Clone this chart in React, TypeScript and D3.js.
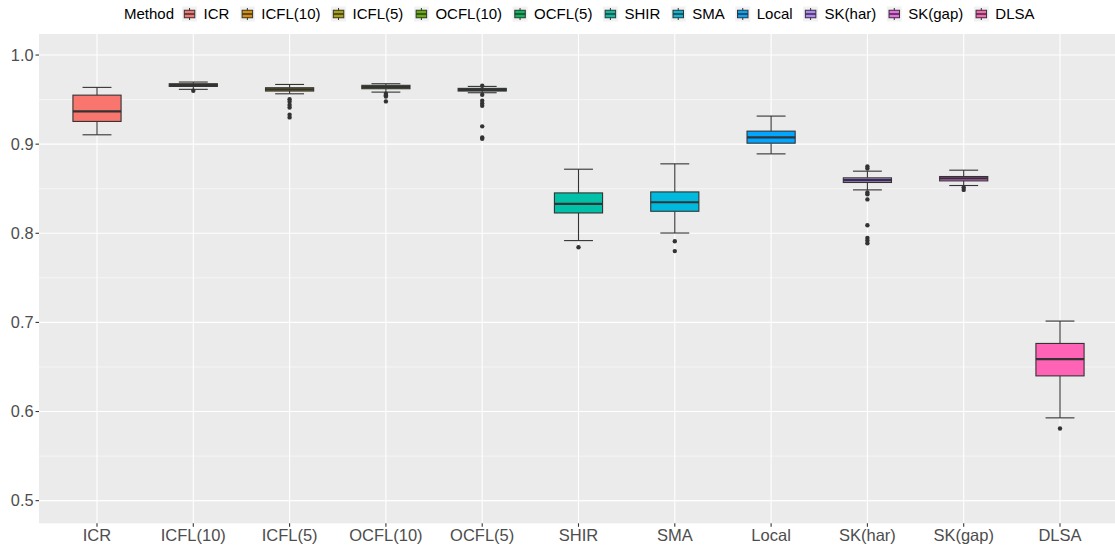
import React from "react";
import * as d3 from "d3";

const categories = ["ICR", "ICFL(10)", "ICFL(5)", "OCFL(10)", "OCFL(5)", "SHIR", "SMA", "Local", "SK(har)", "SK(gap)", "DLSA"];
const colors = ["#F8766D", "#DB8E00", "#AEA200", "#64B200", "#00BD5C", "#00C1A7", "#00BADE", "#00A6FF", "#B385FF", "#EF67EB", "#FF63B6"];
const whiskerLow = [0.9105, 0.9615, 0.9565, 0.9584, 0.9577, 0.7918, 0.8003, 0.8891, 0.8487, 0.8536, 0.5929];
const q1 = [0.9255, 0.9648, 0.9596, 0.9622, 0.9596, 0.8228, 0.8247, 0.9011, 0.857, 0.8588, 0.640];
const median = [0.9367, 0.9663, 0.9615, 0.964, 0.961, 0.8329, 0.8348, 0.9075, 0.8596, 0.8615, 0.6588];
const q3 = [0.955, 0.9678, 0.9633, 0.966, 0.9626, 0.8453, 0.8464, 0.9146, 0.8622, 0.8637, 0.6764];
const whiskerHigh = [0.9637, 0.9697, 0.967, 0.9678, 0.9648, 0.8719, 0.8779, 0.9315, 0.8697, 0.8708, 0.7015];
const outliers: number[][] = [
  [],
  [0.96],
  [0.9505, 0.9475, 0.944, 0.941, 0.933, 0.93],
  [0.9565, 0.955, 0.9535, 0.948],
  [0.9655, 0.9554, 0.9487, 0.9457, 0.943, 0.92, 0.9075, 0.906],
  [0.7843],
  [0.791, 0.78],
  [],
  [0.8749, 0.8727, 0.8457, 0.8438, 0.838, 0.809, 0.7947, 0.792, 0.7888],
  [0.8513, 0.8487],
  [0.581],
];
const yTicks = [0.5, 0.6, 0.7, 0.8, 0.9, 1.0];
const yMinor = [0.55, 0.65, 0.75, 0.85, 0.95];
const legendTitle = "Method";

const W = 1115, H = 550;
const panel = { left: 39, right: 1115, top: 34, bottom: 523.3 };
const FONT = "'Liberation Sans', Arial, Helvetica, sans-serif";

function measure(text: string, size: number) {
  if (typeof document === "undefined") return text.length * size * 0.55;
  const c = document.createElement("canvas").getContext("2d");
  if (!c) return text.length * size * 0.55;
  c.font = `${size}px ${FONT}`;
  return c.measureText(text).width;
}

export default function App() {
  const y = d3.scaleLinear().domain([0.4746, 1.0236]).range([panel.bottom, panel.top]);
  const x = d3.scalePoint<string>().domain(categories).range([97, 1060]);
  const step = x.step();
  const boxW = step * 0.5;
  const capW = step * 0.3;
  const stroke = "#333333";

  // legend layout
  const legSize = 15;
  let lx = 124;
  const titleW = measure(legendTitle, legSize);
  const titleX = lx;
  lx += titleW + 8;
  const items = categories.map((c, i) => {
    const keyX = lx;
    const labX = lx + 21.5;
    lx = labX + measure(c, legSize) + 10.5;
    return { c, i, keyX, labX };
  });
  const legY = 14;
  const k = 15;

  return (
    <svg width={W} height={H} style={{ position: "absolute", left: 0, top: 0, background: "#fff" }} fontFamily={FONT}>
      <rect x={panel.left} y={panel.top} width={panel.right - panel.left} height={panel.bottom - panel.top} fill="#EBEBEB" />
      {yMinor.map((v) => (
        <line key={"mn" + v} x1={panel.left} x2={panel.right} y1={y(v)} y2={y(v)} stroke="#fff" strokeWidth={0.55} />
      ))}
      {yTicks.map((v) => (
        <line key={"mj" + v} x1={panel.left} x2={panel.right} y1={y(v)} y2={y(v)} stroke="#fff" strokeWidth={1.1} />
      ))}
      {categories.map((c) => (
        <line key={"vx" + c} x1={x(c)} x2={x(c)} y1={panel.top} y2={panel.bottom} stroke="#fff" strokeWidth={1.1} />
      ))}
      {categories.map((c, i) => {
        const cx = x(c) as number;
        return (
          <g key={"b" + c}>
            <line x1={cx} x2={cx} y1={y(whiskerHigh[i])} y2={y(q3[i])} stroke={stroke} strokeWidth={1.1} />
            <line x1={cx} x2={cx} y1={y(q1[i])} y2={y(whiskerLow[i])} stroke={stroke} strokeWidth={1.1} />
            <line x1={cx - capW / 2} x2={cx + capW / 2} y1={y(whiskerHigh[i])} y2={y(whiskerHigh[i])} stroke={stroke} strokeWidth={1.1} />
            <line x1={cx - capW / 2} x2={cx + capW / 2} y1={y(whiskerLow[i])} y2={y(whiskerLow[i])} stroke={stroke} strokeWidth={1.1} />
            <rect x={cx - boxW / 2} y={y(q3[i])} width={boxW} height={y(q1[i]) - y(q3[i])} fill={colors[i]} stroke={stroke} strokeWidth={1.1} />
            <line x1={cx - boxW / 2} x2={cx + boxW / 2} y1={y(median[i])} y2={y(median[i])} stroke={stroke} strokeWidth={2.2} />
            {outliers[i].map((v, j) => (
              <circle key={j} cx={cx} cy={y(v)} r={2.2} fill={stroke} />
            ))}
          </g>
        );
      })}
      {yTicks.map((v) => (
        <g key={"yt" + v}>
          <line x1={panel.left - 3.5} x2={panel.left} y1={y(v)} y2={y(v)} stroke="#333" strokeWidth={1.1} />
          <text x={panel.left - 5.5} y={y(v)} dy="0.35em" textAnchor="end" fontSize={16.3} fill="#4D4D4D">
            {d3.format(".1f")(v)}
          </text>
        </g>
      ))}
      {categories.map((c) => (
        <g key={"xt" + c}>
          <line x1={x(c)} x2={x(c)} y1={panel.bottom} y2={panel.bottom + 3.5} stroke="#333" strokeWidth={1.1} />
          <text x={x(c)} y={540.5} textAnchor="middle" fontSize={16.5} fill="#4D4D4D">
            {c}
          </text>
        </g>
      ))}
      <text x={titleX} y={legY} dy="0.36em" fontSize={legSize} fill="#000">
        {legendTitle}
      </text>
      {items.map(({ c, i, keyX, labX }) => (
        <g key={"lg" + c}>
          <rect x={keyX} y={legY - k / 2} width={k} height={k} fill="#F2F2F2" />
          <line x1={keyX + k / 2} x2={keyX + k / 2} y1={legY - k / 2 + 1.5} y2={legY + k / 2 - 1.5} stroke={stroke} strokeWidth={1} />
          <rect x={keyX + k * 0.15} y={legY - k * 0.25} width={k * 0.7} height={k * 0.5} fill={colors[i]} stroke={stroke} strokeWidth={1} />
          <line x1={keyX + k * 0.15} x2={keyX + k * 0.85} y1={legY} y2={legY} stroke={stroke} strokeWidth={1.5} />
          <text x={labX} y={legY} dy="0.36em" fontSize={legSize} fill="#000">
            {c}
          </text>
        </g>
      ))}
    </svg>
  );
}
